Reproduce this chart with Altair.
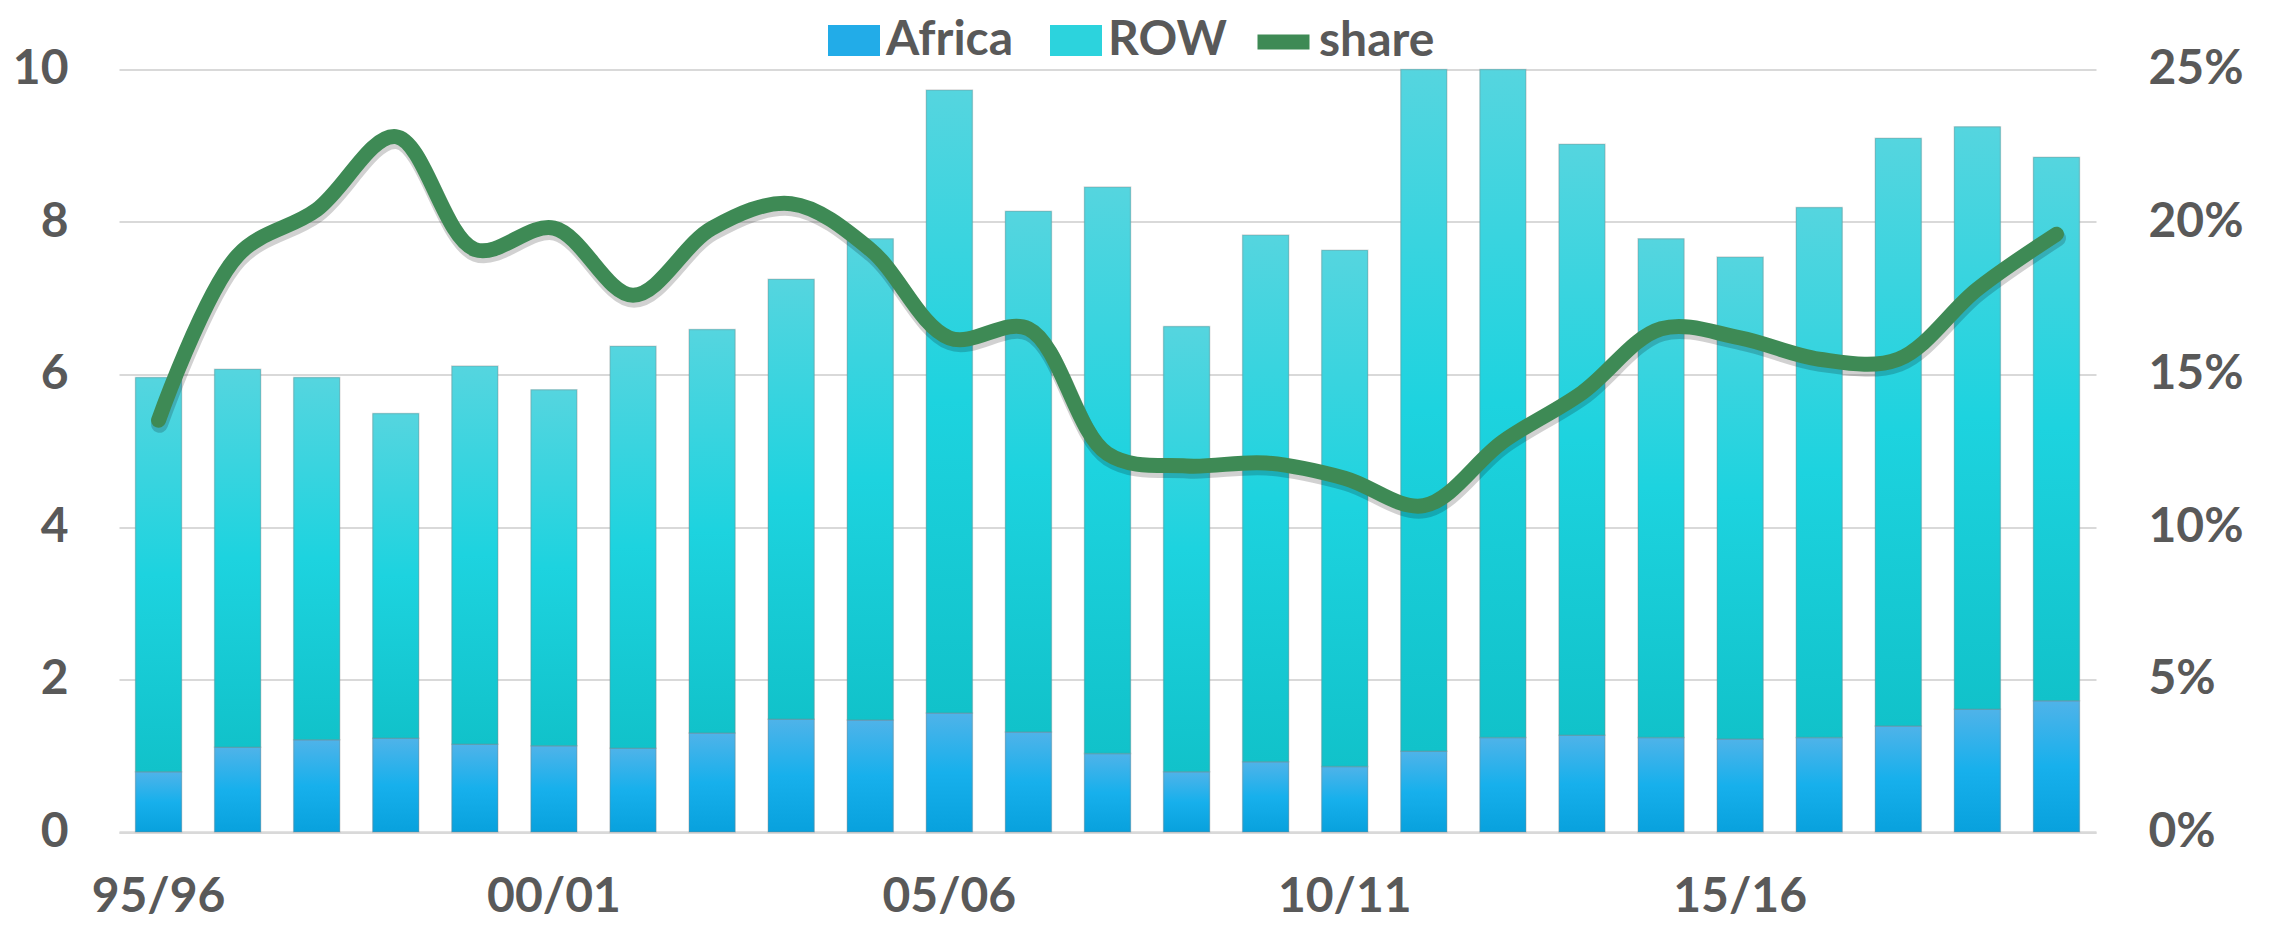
import altair as alt
import pandas as pd

# ---------------- data ----------------
cats = ["95/96", "96/97", "97/98", "98/99", "99/00", "00/01", "01/02", "02/03",
        "03/04", "04/05", "05/06", "06/07", "07/08", "08/09", "09/10", "10/11",
        "11/12", "12/13", "13/14", "14/15", "15/16", "16/17", "17/18", "18/19",
        "19/20"]
africa = [0.79, 1.11, 1.21, 1.23, 1.15, 1.13, 1.10, 1.30, 1.48, 1.47, 1.56, 1.31,
          1.03, 0.79, 0.92, 0.86, 1.06, 1.24, 1.27, 1.24, 1.22, 1.24, 1.39, 1.61, 1.72]
row = [5.17, 4.96, 4.75, 4.26, 4.96, 4.67, 5.27, 5.29, 5.77, 6.31, 8.17, 6.83,
       7.43, 5.84, 6.91, 6.77, 8.94, 8.76, 7.75, 6.54, 6.32, 6.95, 7.71, 7.64, 7.13]
share_pct = [13.5, 18.9, 20.4, 22.8, 19.1, 19.8, 17.6, 19.8, 20.6, 19.1, 16.2, 16.5,
             12.4, 12.0, 12.1, 11.6, 10.7, 12.8, 14.4, 16.5, 16.2, 15.5, 15.5, 17.8, 19.6]
x_labels = ["95/96", "00/01", "05/06", "10/11", "15/16"]
left_ticks = [0, 2, 4, 6, 8, 10]
right_ticks = [0, 0.05, 0.10, 0.15, 0.20, 0.25]
series_names = ["Africa", "ROW"]
line_name = "share"

# ---------------- styling ----------------
FONT = "Lato"
GREY = "#595959"
GRID = "#D9D9D9"
FS = 48

recs = []
for i, c in enumerate(cats):
    recs.append({"cat": c, "series": "Africa", "lo": 0.0, "hi": africa[i]})
    recs.append({"cat": c, "series": "ROW", "lo": africa[i], "hi": africa[i] + row[i]})
bars_df = pd.DataFrame(recs)
line_df = pd.DataFrame({"cat": cats, "share": [v / 100 for v in share_pct],
                        "name": [line_name] * len(cats)})

lab = dict(labelFont=FONT, labelFontSize=FS, labelFontWeight="bold", labelColor=GREY)

x_enc = alt.X("cat:N", sort=cats,
              scale=alt.Scale(paddingInner=0.417, paddingOuter=0.2085),
              axis=alt.Axis(title=None, values=x_labels, labelAngle=0, ticks=False,
                            grid=False, domain=True, domainColor=GRID, domainWidth=2.5,
                            labelPadding=41, **lab))

y_enc = alt.Y("hi:Q", scale=alt.Scale(domain=[0, 10], nice=False),
              axis=alt.Axis(title=None, values=left_ticks, grid=True, gridColor=GRID,
                            gridWidth=2, domain=False, ticks=False, labelPadding=51, **lab))

grad_a = {"gradient": "linear", "x1": 0, "y1": 0, "x2": 0, "y2": 1,
          "stops": [{"offset": 0, "color": "#4FB3E9"},
                    {"offset": 0.5, "color": "#17B0EC"},
                    {"offset": 1, "color": "#08A1DD"}]}
grad_r = {"gradient": "linear", "x1": 0, "y1": 0, "x2": 0, "y2": 1,
          "stops": [{"offset": 0, "color": "#55D5DF"},
                    {"offset": 0.5, "color": "#1DD3DF"},
                    {"offset": 1, "color": "#11C2CA"}]}

base = alt.Chart(bars_df).encode(x=x_enc, y=y_enc, y2="lo")

legend_bars = base.mark_bar().encode(
    fill=alt.Fill("series:N",
                  scale=alt.Scale(domain=series_names, range=["#22ACE8", "#2CD3DD"]),
                  legend=alt.Legend(title=None, orient="none", legendX=709, legendY=-55,
                                    direction="horizontal",
                                    symbolType="M-1,-0.6H1V0.6H-1Z", symbolSize=2704,
                                    symbolStrokeWidth=0, symbolOpacity=1,
                                    labelOffset=6, columnPadding=36, padding=0,
                                    labelFont=FONT, labelFontSize=FS,
                                    labelFontWeight="bold", labelColor=GREY))
)

grad_bars = base.mark_bar(stroke="#808080", strokeOpacity=0.3, strokeWidth=1.5).encode(
    fill=alt.condition("datum.series === 'Africa'", alt.value(grad_a), alt.value(grad_r))
)

y_share = alt.Y("share:Q", scale=alt.Scale(domain=[0, 0.25], nice=False),
                axis=alt.Axis(title=None, orient="right", format=".0%", values=right_ticks,
                              grid=False, domain=False, ticks=False, labelPadding=52, **lab))

line_shadow = alt.Chart(line_df).mark_line(
    interpolate="catmull-rom", strokeWidth=17, strokeCap="round", strokeJoin="round",
    color="#000000", opacity=0.18, yOffset=4, xOffset=1
).encode(x=x_enc, y=y_share)

line = alt.Chart(line_df).mark_line(
    interpolate="catmull-rom", strokeWidth=15, strokeCap="round", strokeJoin="round"
).encode(
    x=x_enc,
    y=y_share,
    stroke=alt.Stroke("name:N", scale=alt.Scale(domain=[line_name], range=["#3E8A55"]),
                      legend=alt.Legend(title=None, orient="none", legendX=1131, legendY=-61,
                                        direction="horizontal", symbolType="stroke",
                                        symbolSize=2704, symbolStrokeWidth=15,
                                        labelOffset=2, padding=0,
                                        labelFont=FONT, labelFontSize=FS,
                                        labelFontWeight="bold", labelColor=GREY)),
)

chart = alt.layer(alt.layer(legend_bars, grad_bars), alt.layer(line_shadow, line)).resolve_scale(
    y="independent"
).properties(
    width=1977, height=762.5,
    autosize=alt.AutoSizeParams(type="none"),
    padding={"left": 111, "top": 61.5, "right": 166, "bottom": 90},
    background="white",
).configure_view(stroke=None)

chart.save("out.html", embed_options={"renderer": "svg", "actions": False})
